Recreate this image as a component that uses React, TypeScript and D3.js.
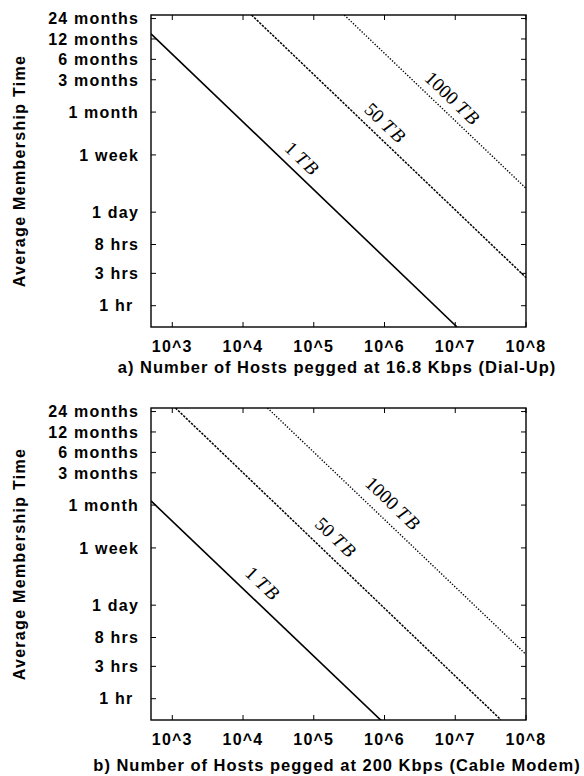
import { useEffect, useRef } from "react";
import * as d3 from "d3";

// hosts (x) and membership time in hours (y), both on log scales
const hostDomain = [500, 1e8];
const hoursDomain = [0.485, 19500];
const hostTicks = [1e3, 1e4, 1e5, 1e6, 1e7, 1e8];
const hostTickLabels = ["10^3", "10^4", "10^5", "10^6", "10^7", "10^8"];
const timeTickHours = [1, 3, 8, 24, 168, 720, 2160, 4320, 8640, 17280];
const timeTickLabels = ["1 hr\u00a0", "3 hrs", "8 hrs", "1 day", "1 week", "1 month", "3 months", "6 months", "12 months", "24 months"];

const storageSizes = ["1", "50", "1000"];

// [hosts, hours] end points of each line
const dialUpLines = [
  [[500, 10300], [1.06e7, 0.485]],
  [[13200, 19500], [1e8, 2.6]],
  [[2.7e5, 19500], [1e8, 54]],
];
const cableLines = [
  [[500, 830], [9.1e5, 0.47]],
  [[1110, 19500], [4.4e7, 0.49]],
  [[22150, 19500], [1e8, 4.5]],
];
// host count where each curve label sits
const dialUpLabelHosts = [5e4, 7.5e5, 6.7e6];
const cableLabelHosts = [1.3e4, 1.4e5, 9e5];

const panelTitles = [
  "a) Number of Hosts pegged at 16.8 Kbps (Dial-Up)",
  "b) Number of Hosts pegged at 200 Kbps (Cable Modem)",
];

const sans = "'Liberation Sans', Arial, Helvetica, sans-serif";
const serif = "'Liberation Serif', 'DejaVu Serif', serif";
const lineStyles = [
  {width: 1.6, dash: null},
  {width: 1.5, dash: "2.4,1.2"},
  {width: 1.4, dash: "1.3,1.7"},
];

function drawPanel(svg, idx, top, lines, labelHosts, title, titleDy, labelOffset) {
  const left = 151, width = 375, height = 312;
  const x = d3.scaleLog().domain(hostDomain).range([left, left + width]);
  const y = d3.scaleLog().domain(hoursDomain).range([top + height, top]);
  const g = svg.append("g");

  g.append("clipPath").attr("id", "clip" + idx)
    .append("rect").attr("x", left).attr("y", top).attr("width", width).attr("height", height);

  // y ticks + labels
  timeTickHours.forEach((h, i) => {
    const yy = y(h);
    g.append("line").attr("x1", left).attr("x2", left + 5).attr("y1", yy).attr("y2", yy)
      .attr("stroke", "#000").attr("stroke-width", 1);
    g.append("line").attr("x1", left + width - 5).attr("x2", left + width).attr("y1", yy).attr("y2", yy)
      .attr("stroke", "#000").attr("stroke-width", 1);
    g.append("text").attr("x", 139).attr("y", yy).attr("dy", "0.36em")
      .attr("text-anchor", "end").attr("font-family", sans).attr("font-weight", "bold")
      .attr("font-size", 16).attr("letter-spacing", 1.2).text(timeTickLabels[i]);
  });

  // x ticks + labels
  hostTicks.forEach((n, i) => {
    const xx = x(n);
    g.append("line").attr("x1", xx).attr("x2", xx).attr("y1", top + height).attr("y2", top + height - 5)
      .attr("stroke", "#000").attr("stroke-width", 1);
    g.append("line").attr("x1", xx).attr("x2", xx).attr("y1", top).attr("y2", top + 5)
      .attr("stroke", "#000").attr("stroke-width", 1);
    g.append("text").attr("x", xx).attr("y", top + height + 25)
      .attr("text-anchor", "middle").attr("font-family", sans).attr("font-weight", "bold")
      .attr("font-size", 16).attr("letter-spacing", 1.2).text(hostTickLabels[i]);
  });

  // curves
  const line = d3.line().x((d) => x(d[0])).y((d) => y(d[1]));
  lines.forEach((pts, i) => {
    const st = lineStyles[i];
    g.append("path").attr("d", line(pts)).attr("fill", "none")
      .attr("stroke", "#000").attr("stroke-width", st.width)
      .attr("stroke-dasharray", st.dash)
      .attr("clip-path", "url(#clip" + idx + ")");

    // label placed along the curve
    const [p0, p1] = pts;
    const t = (Math.log10(labelHosts[i]) - Math.log10(p0[0])) / (Math.log10(p1[0]) - Math.log10(p0[0]));
    const lh = Math.pow(10, Math.log10(p0[1]) + t * (Math.log10(p1[1]) - Math.log10(p0[1])));
    const dx = x(p1[0]) - x(p0[0]), dy = y(p1[1]) - y(p0[1]);
    const a = Math.atan2(dy, dx);
    const cx = x(labelHosts[i]) + Math.sin(a) * labelOffset;
    const cy = y(lh) - Math.cos(a) * labelOffset;
    const txt = g.append("text")
      .attr("transform", `translate(${cx},${cy}) rotate(${(a * 180) / Math.PI})`)
      .attr("text-anchor", "middle").attr("dominant-baseline", "central")
      .attr("font-family", serif).attr("font-size", 19);
    txt.append("tspan").text(storageSizes[i] + " ");
    txt.append("tspan").attr("font-style", "italic").attr("letter-spacing", 2).text("TB");
  });

  // frame
  g.append("rect").attr("x", left).attr("y", top).attr("width", width).attr("height", height)
    .attr("fill", "none").attr("stroke", "#000").attr("stroke-width", 1.4);

  // axis titles
  g.append("text").attr("transform", `translate(25,${top + height / 2}) rotate(-90)`)
    .attr("text-anchor", "middle").attr("font-family", sans).attr("font-weight", "bold")
    .attr("font-size", 16).attr("letter-spacing", 1.3).text("Average Membership Time");
  g.append("text").attr("x", 337).attr("y", top + height + titleDy)
    .attr("text-anchor", "middle").attr("font-family", sans).attr("font-weight", "bold")
    .attr("font-size", 16.5).attr("letter-spacing", 1).text(title);
}

export default function App() {
  const ref = useRef<SVGSVGElement>(null);

  useEffect(() => {
    document.body.style.margin = "0";
    const svg = d3.select(ref.current);
    svg.selectAll("*").remove();
    drawPanel(svg, 0, 15, dialUpLines, dialUpLabelHosts, panelTitles[0], 46, 15);
    drawPanel(svg, 1, 408, cableLines, cableLabelHosts, panelTitles[1], 51, 18);
  }, []);

  return <svg ref={ref} width={584} height={776} style={{display: "block", background: "#fff"}} />;
}
